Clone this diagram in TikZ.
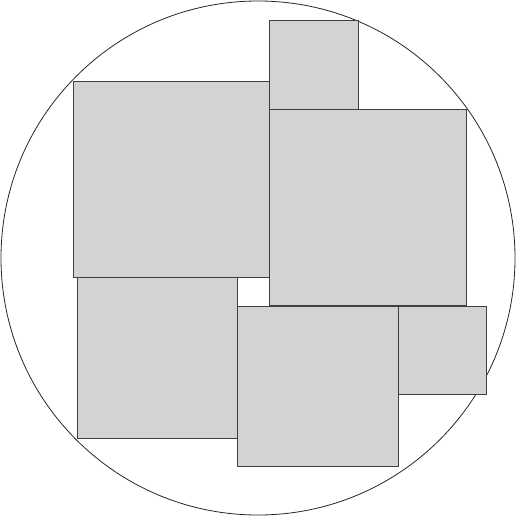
\documentclass[tikz,border=0pt]{standalone}
\usepackage{tikz}
\definecolor{grigio}{RGB}{211,211,211}
\begin{document}
\begin{tikzpicture}[
		x=1pt, y=-1pt,
		cerchio/.style={line width=0.8pt, black!85},
		quadrato/.style={line width=0.8pt, draw=black!75, fill=grigio},
		]
		
		\def\R{257}      % raggio del cerchio
		
		\useasboundingbox (0,0) rectangle (516,516);
		
		%%═══ CERCHIO CONTENITORE ══════════════════════════════
		\draw[cerchio] (258,258) circle (\R);
		
		%%═══ QUADRATI ═════════════════════════════════════════
		% riga superiore
		\draw[quadrato] (73,81) rectangle (269.5,277.5);      % grande a sinistra
		\draw[quadrato] (269.5,20.7) rectangle (358,109);      % piccolo in alto
		\draw[quadrato] (269.5,109) rectangle (466.7,305.5);   % grande a destra
		% riga inferiore
		\draw[quadrato] (77.5,277.5) rectangle (237.7,438.3);  % medio a sinistra
		\draw[quadrato] (237.7,306) rectangle (398.7,466.3);   % medio al centro
		\draw[quadrato] (398.7,306) rectangle (486.7,394.3);   % piccolo a destra
		
	\end{tikzpicture}
\end{document}
